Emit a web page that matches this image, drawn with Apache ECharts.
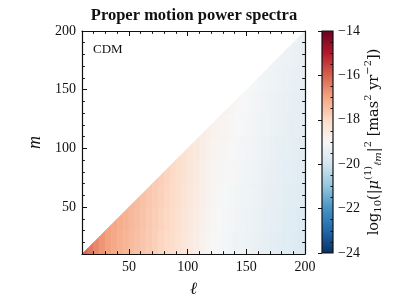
<!DOCTYPE html>
<html><head><meta charset="utf-8">
<script src="https://cdn.jsdelivr.net/npm/echarts@6/dist/echarts.min.js"></script>
<style>html,body{margin:0;padding:0;background:#fff}#c{width:407px;height:305px}</style>
</head><body><div id="c"></div>
<script>
// Cell grid: ell bins of width 5, m bins of width 20 (only m <= ell is filled)
const ellCenters = [12.5,17.5,22.5,27.5,32.5,37.5,42.5,47.5,52.5,57.5,62.5,67.5,72.5,77.5,82.5,87.5,92.5,97.5,102.5,107.5,112.5,117.5,122.5,127.5,132.5,137.5,142.5,147.5,152.5,157.5,162.5,167.5,172.5,177.5,182.5,187.5,192.5,197.5];
const mCenters = [20,40,60,80,100,120,140,160,180,200];
// log10 power, one row per m bin; each row starts at the first ell bin that reaches that m
const row0 = [-16.05,-16.35,-16.60,-16.78,-16.95,-17.08,-17.20,-17.30,-17.40,-17.50,-17.60,-17.70,-17.80,-17.90,-18.00,-18.10,-18.25,-18.40,-18.55,-18.65,-18.80,-18.90,-19.00,-19.05,-19.10,-19.15,-19.20,-19.25,-19.30,-19.35,-19.40,-19.45,-19.50,-19.55,-19.60,-19.62,-19.66,-19.70];
const row1 = [-16.96,-17.06,-17.16,-17.26,-17.36,-17.46,-17.56,-17.66,-17.76,-17.86,-17.96,-18.06,-18.21,-18.36,-18.51,-18.61,-18.76,-18.86,-18.96,-19.01,-19.06,-19.11,-19.16,-19.21,-19.26,-19.31,-19.36,-19.41,-19.46,-19.51,-19.56,-19.58,-19.62,-19.66];
const row2 = [-17.32,-17.42,-17.52,-17.62,-17.72,-17.82,-17.92,-18.02,-18.17,-18.32,-18.47,-18.57,-18.72,-18.82,-18.92,-18.97,-19.02,-19.07,-19.12,-19.17,-19.22,-19.27,-19.32,-19.37,-19.42,-19.47,-19.52,-19.54,-19.58,-19.62];
const row3 = [-17.68,-17.78,-17.88,-17.98,-18.13,-18.28,-18.43,-18.53,-18.68,-18.78,-18.88,-18.93,-18.98,-19.03,-19.08,-19.13,-19.18,-19.23,-19.28,-19.33,-19.38,-19.43,-19.48,-19.50,-19.54,-19.58];
const row4 = [-18.09,-18.24,-18.39,-18.49,-18.64,-18.74,-18.84,-18.89,-18.94,-18.99,-19.04,-19.09,-19.14,-19.19,-19.24,-19.29,-19.34,-19.39,-19.44,-19.46,-19.50,-19.54];
const row5 = [-18.60,-18.70,-18.80,-18.85,-18.90,-18.95,-19.00,-19.05,-19.10,-19.15,-19.20,-19.25,-19.30,-19.35,-19.40,-19.42,-19.46,-19.50];
const row6 = [-18.86,-18.91,-18.96,-19.01,-19.06,-19.11,-19.16,-19.21,-19.26,-19.31,-19.36,-19.38,-19.42,-19.46];
const row7 = [-19.02,-19.07,-19.12,-19.17,-19.22,-19.27,-19.32,-19.34,-19.38,-19.42];
const row8 = [-19.18,-19.23,-19.28,-19.30,-19.34,-19.38];
const row9 = [-19.30,-19.34];
const valueRows = [row0,row1,row2,row3,row4,row5,row6,row7,row8,row9];

const xMajorTicks = [50,100,150,200];
const xMinorTicks = [20,30,40,60,70,80,90,110,120,130,140,160,170,180,190];
const yMajorTicks = [50,100,150,200];
const yMinorTicks = [20,30,40,60,70,80,90,110,120,130,140,160,170,180,190];
const cbMajorTicks = [-24,-22,-20,-18,-16,-14];
const cbMinorTicks = [-23.5,-23,-22.5,-21.5,-21,-20.5,-19.5,-19,-18.5,-17.5,-17,-16.5,-15.5,-15,-14.5];
const rdbuR = ['#053061','#2166ac','#4393c3','#92c5de','#d1e5f0','#f7f7f7','#fddbc7','#f4a582','#d6604d','#b2182b','#67001f'];

const FONT = 'Liberation Serif';
const FONT2 = 'DejaVu Serif';
const INK = '#111';
const LBIN = 5, MBIN = 20, LMIN = 10, LMAX = 200;
const CBMIN = -24, CBMAX = -14;

// assemble [ell, m, value] items from the rows
const data = [];
mCenters.forEach((mc, k) => {
  const start = ellCenters.findIndex(l => l + LBIN / 2 > mc - MBIN / 2);
  valueRows[k].forEach((v, i) => data.push([ellCenters[start + i], mc, v]));
});

// clip a polygon (in data units) to the half plane m <= ell
function clipDiag(poly) {
  const out = [];
  for (let i = 0; i < poly.length; i++) {
    const a = poly[i], b = poly[(i + 1) % poly.length];
    const fa = a[1] - a[0], fb = b[1] - b[0];
    if (fa <= 0) out.push(a);
    if ((fa < 0 && fb > 0) || (fa > 0 && fb < 0)) {
      const t = fa / (fa - fb);
      out.push([a[0] + t * (b[0] - a[0]), a[1] + t * (b[1] - a[1])]);
    }
  }
  return out;
}

function mainAxis(pos, ticks, isMajor, showLabel) {
  return {
    type: 'value', gridIndex: 0, position: pos, min: LMIN, max: LMAX, z: 5,
    axisLine: { show: isMajor, onZero: false, lineStyle: { color: INK, width: 1.2 } },
    axisTick: { show: true, inside: true, length: isMajor ? 5 : 2.8, customValues: ticks, lineStyle: { color: INK, width: 1 } },
    axisLabel: { show: showLabel, customValues: ticks, color: INK, fontFamily: FONT, fontSize: 14, margin: 6 },
    splitLine: { show: false }
  };
}

const xAxes = [
  Object.assign(mainAxis('bottom', xMajorTicks, true, true), {
    name: 'ℓ', nameLocation: 'middle', nameGap: 27,
    nameTextStyle: { fontFamily: FONT, fontStyle: 'italic', fontSize: 17, color: INK }
  }),
  mainAxis('bottom', xMinorTicks, false, false),
  mainAxis('top', xMajorTicks, true, false),
  mainAxis('top', xMinorTicks, false, false),
  { type: 'value', gridIndex: 1, min: 0, max: 1, show: false }
];
const yAxes = [
  Object.assign(mainAxis('left', yMajorTicks, true, true), {
    name: 'm', nameLocation: 'middle', nameGap: 30, nameRotate: 90,
    nameTextStyle: { fontFamily: FONT, fontStyle: 'italic', fontSize: 18, color: INK }
  }),
  mainAxis('left', yMinorTicks, false, false),
  mainAxis('right', yMajorTicks, true, false),
  mainAxis('right', yMinorTicks, false, false),
  {
    type: 'value', gridIndex: 1, position: 'right', min: CBMIN, max: CBMAX, z: 5,
    axisLine: { show: false },
    axisTick: { show: true, inside: true, length: 4, customValues: cbMajorTicks, lineStyle: { color: INK, width: 1 } },
    axisLabel: { show: true, customValues: cbMajorTicks, color: INK, fontFamily: FONT, fontSize: 14, margin: 5,
      formatter: v => String(v).replace('-', '\u2212') },
    splitLine: { show: false },
    name: 'log{sub|10}(|{it|μ}{sup|(1)}{subi|ℓm}|{sup|2} [mas{sup|2} yr{sup|−2}])',
    nameLocation: 'middle', nameGap: 33, nameRotate: 90,
    nameTextStyle: {
      fontFamily: FONT2, fontSize: 14.5, color: INK, lineHeight: 20, verticalAlign: 'middle',
      rich: {
        sub: { fontFamily: FONT2, fontSize: 10, color: INK, verticalAlign: 'bottom', lineHeight: 11 },
        subi: { fontFamily: FONT2, fontSize: 10, fontStyle: 'italic', color: INK, verticalAlign: 'bottom', lineHeight: 11 },
        sup: { fontFamily: FONT2, fontSize: 10, color: INK, verticalAlign: 'top', lineHeight: 11 },
        it: { fontFamily: FONT2, fontSize: 14.5, fontStyle: 'italic', color: INK, lineHeight: 20 }
      }
    }
  },
  {
    type: 'value', gridIndex: 1, position: 'right', min: CBMIN, max: CBMAX, z: 5,
    axisLine: { show: false },
    axisTick: { show: true, inside: true, length: 2.5, customValues: cbMinorTicks, lineStyle: { color: INK, width: 1 } },
    axisLabel: { show: false }, splitLine: { show: false }
  }
];

const option = {
  animation: false,
  backgroundColor: '#fff',
  title: [
    { text: 'Proper motion power spectra', left: 194, top: 7, textAlign: 'center', padding: 0,
      textStyle: { fontFamily: FONT, fontWeight: 'bold', fontSize: 16.5, color: INK } },
    { text: 'CDM', left: 93, top: 43, padding: 0,
      textStyle: { fontFamily: FONT, fontWeight: 'normal', fontSize: 13, color: INK } }
  ],
  grid: [
    { left: 82, top: 31, width: 223, height: 223 },
    { left: 322, top: 31, width: 11, height: 222 }
  ],
  xAxis: xAxes,
  yAxis: yAxes,
  visualMap: {
    show: false, type: 'continuous', min: CBMIN, max: CBMAX, dimension: 2, seriesIndex: 0,
    inRange: { color: rdbuR }
  },
  series: [
    {
      type: 'custom', xAxisIndex: 0, yAxisIndex: 0, z: 2,
      data: data,
      renderItem: function (params, api) {
        const l = api.value(0), m = api.value(1);
        const l0 = Math.max(LMIN, l - LBIN / 2), l1 = Math.min(LMAX, l + LBIN / 2);
        const m0 = Math.max(LMIN, m - MBIN / 2), m1 = Math.min(LMAX, m + MBIN / 2);
        const poly = clipDiag([[l0, m0], [l1, m0], [l1, m1], [l0, m1]]);
        if (poly.length < 3) return null;
        const color = api.visual('color');
        return { type: 'polygon', shape: { points: poly.map(p => api.coord(p)) },
          style: { fill: color, stroke: color, lineWidth: 0.6 } };
      }
    },
    {
      type: 'custom', xAxisIndex: 4, yAxisIndex: 4, z: 2,
      data: [[0, CBMIN]],
      renderItem: function (params, api) {
        const p0 = api.coord([0, CBMAX]);
        const p1 = api.coord([1, CBMIN]);
        const stops = rdbuR.map((c, i) => ({ offset: 1 - i / (rdbuR.length - 1), color: c }));
        return {
          type: 'rect',
          shape: { x: p0[0], y: p0[1], width: p1[0] - p0[0], height: p1[1] - p0[1] },
          style: { fill: new echarts.graphic.LinearGradient(0, 0, 0, 1, stops), stroke: INK, lineWidth: 1.2 }
        };
      }
    }
  ]
};
const chart = echarts.init(document.getElementById('c'), null, { renderer: 'canvas' });
chart.setOption(option);
</script></body></html>
